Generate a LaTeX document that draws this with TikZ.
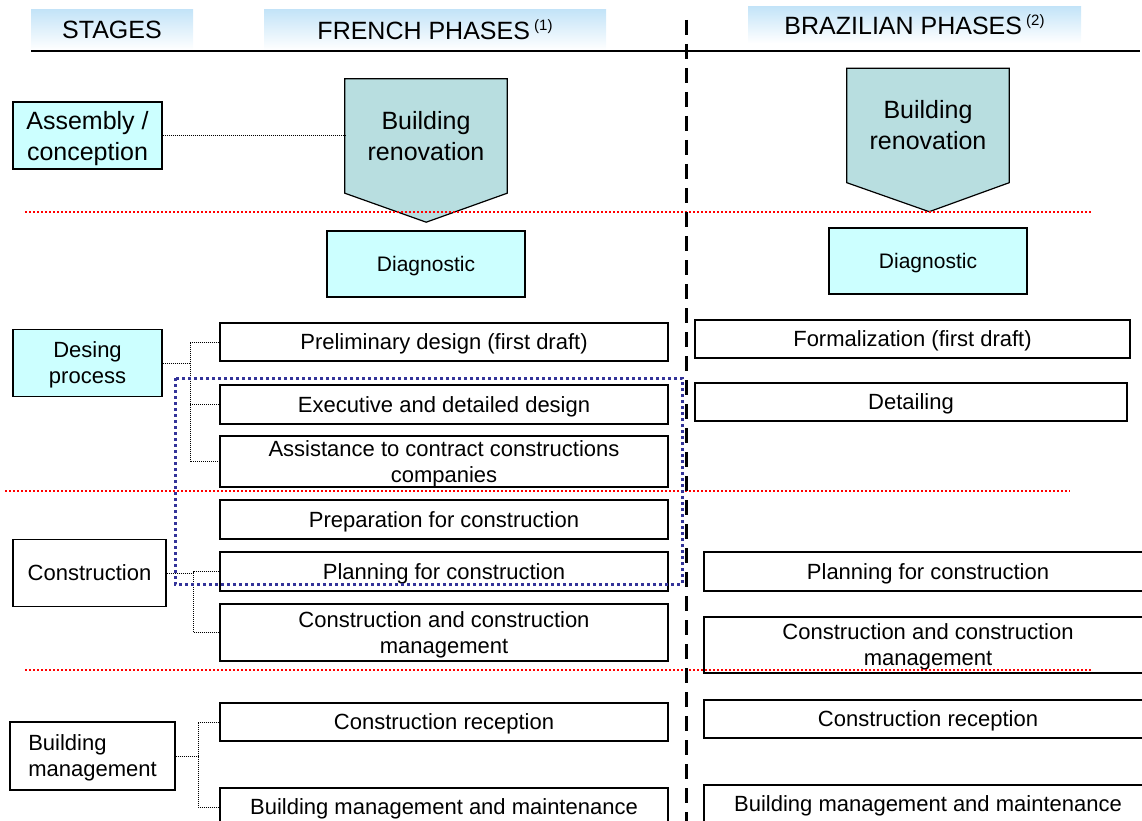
\documentclass[tikz,border=0pt]{standalone}
\usepackage{fontspec}
\setmainfont{Liberation Sans}
\usetikzlibrary{positioning}
\pgfdeclarelayer{background}
\pgfsetlayers{background,main}
\definecolor{stagecyan}{RGB}{204,255,255}
\definecolor{renovteal}{RGB}{184,222,224}
\definecolor{hdrblue}{RGB}{196,228,248}
\definecolor{focusblue}{RGB}{51,51,153}

\begin{document}
\begin{tikzpicture}[
  x=1pt, y=-1pt,
  box/.style={draw, line width=1.2pt, align=center, inner sep=2pt, text depth=0pt,
              font=\fontsize{22}{26}\selectfont},
  stagebox/.style={box, minimum height=67pt},
  phasebox/.style={box, fill=white, minimum height=38pt},
  diagbox/.style={box, fill=stagecyan, minimum width=198pt,
                  minimum height=66pt, font=\fontsize{21}{25}\selectfont},
  renov/.style={minimum width=162pt, minimum height=114pt, align=center,
                font=\fontsize{25}{31}\selectfont},
  hdr/.style={top color=hdrblue, bottom color=white, minimum height=40pt, text depth=0pt,
              font=\fontsize{25}{30}\selectfont},
  link/.style={line width=0.8pt, dash pattern=on 1pt off 1pt},
  sep/.style={red, line width=1.6pt, dash pattern=on 1.6pt off 2.4pt},
  focus/.style={focusblue, line width=3pt, dash pattern=on 3pt off 3pt}
]
  \useasboundingbox (0,0) rectangle (1142,821);
  \clip (0,0) rectangle (1142,821);

  \draw[line width=1.4pt] (31,51) -- (1140,51);
  \node[hdr, minimum width=162pt] (hdStages) at (112,30) {STAGES};
  \node[hdr, minimum width=342pt] (hdFrench) at (435,30)
    {FRENCH PHASES\,\raisebox{9pt}{\fontsize{15}{15}\selectfont(1)}};
  \node[hdr, minimum width=333pt, minimum height=36pt] (hdBrazil) at (914.5,25)
    {BRAZILIAN PHASES\,\raisebox{9pt}{\fontsize{15}{15}\selectfont(2)}};

  \node[stagebox, fill=stagecyan, minimum width=149pt,
        font=\fontsize{25}{31}\selectfont] (stAssembly) at (87.5,135.5) {Assembly /\\conception};
  \node[stagebox, fill=stagecyan, minimum width=149pt] (stDesign) at (87.5,363) {Desing\\process};
  \node[stagebox, minimum width=153pt] (stConstr) at (89.5,573) {Construction};
  \node[stagebox, minimum width=165pt, minimum height=68pt, align=left] (stManage) at (92.5,756)
    {Building\\management};

  \node[renov] (frRenov) at (426,136) {Building\\renovation};
  \node[renov] (brRenov) at (928,125.5) {Building\\renovation};
  \begin{pgfonlayer}{background}
    \draw[fill=renovteal, line width=1.2pt] (frRenov.north west) -- (frRenov.north east)
      -- (frRenov.south east) -- ++(-81,29) -- (frRenov.south west) -- cycle;
    \draw[fill=renovteal, line width=1.2pt] (brRenov.north west) -- (brRenov.north east)
      -- (brRenov.south east) -- ++(-80,29) -- (brRenov.south west) -- cycle;
  \end{pgfonlayer}

  \node[diagbox] (frDiag) at (426,264) {Diagnostic};
  \node[diagbox] (brDiag) at (928,261) {Diagnostic};

  \node[phasebox, minimum width=448pt] (frPrelim) at (444,342) {Preliminary design (first draft)};
  \node[phasebox, minimum width=448pt, minimum height=39pt] (frExec) at (444,404.5)
    {Executive and detailed design};
  \node[phasebox, minimum width=448pt, minimum height=51pt] (frAssist) at (444,461.5)
    {Assistance to contract constructions\\companies};
  \node[phasebox, minimum width=448pt, minimum height=39pt] (frPrep) at (444,519.5)
    {Preparation for construction};
  \node[phasebox, minimum width=448pt, minimum height=39pt] (frPlan) at (444,571.5)
    {Planning for construction};
  \node[phasebox, minimum width=448pt, minimum height=57pt] (frConstr) at (444,632.5)
    {Construction and construction\\management};
  \node[phasebox, minimum width=448pt] (frRecep) at (444,722) {Construction reception};
  \node[phasebox, minimum width=448pt] (frMaint) at (444,807)
    {Building management and maintenance};

  \node[phasebox, minimum width=435pt] (brFormal) at (912.5,339) {Formalization (first draft)};
  \node[phasebox, minimum width=432pt] (brDetail) at (911,402) {Detailing};
  \node[phasebox, minimum width=448pt, minimum height=39pt] (brPlan) at (928,571.5)
    {Planning for construction};
  \node[phasebox, minimum width=448pt, minimum height=56pt] (brConstr) at (928,645)
    {Construction and construction\\management};
  \node[phasebox, minimum width=448pt] (brRecep) at (928,719) {Construction reception};
  \node[phasebox, minimum width=448pt] (brMaint) at (928,804)
    {Building management and maintenance};

  \coordinate (dsJoin) at (190,363);
  \coordinate (csJoin) at (193,573);
  \coordinate (bmJoin) at (198,756);

  \draw[link] (stAssembly.east) -- (stAssembly.east -| frRenov.west);
  \draw[link] (stDesign.east) -- (dsJoin);
  \draw[link] (frPrelim.west) -| (dsJoin) |- (frAssist.west);
  \draw[link] (dsJoin |- frExec.west) -- (frExec.west);
  \draw[link] (stConstr.east) -- (csJoin);
  \draw[link] (frPlan.west) -| (csJoin) |- (frConstr.west);
  \draw[link] (stManage.east) -- (bmJoin);
  \draw[link] (frRecep.west) -| (bmJoin) |- (frMaint.west);

  \draw[sep] (25,212) -- (1092,212);
  \draw[sep] (5,491) -- (1070,491);
  \draw[sep] (25,670) -- (1092,670);

  \draw[focus] (175,378) rectangle (682,584);
  \draw[line width=3pt, dash pattern=on 15pt off 9pt] (686,20) -- (686,821);
\end{tikzpicture}
\end{document}
